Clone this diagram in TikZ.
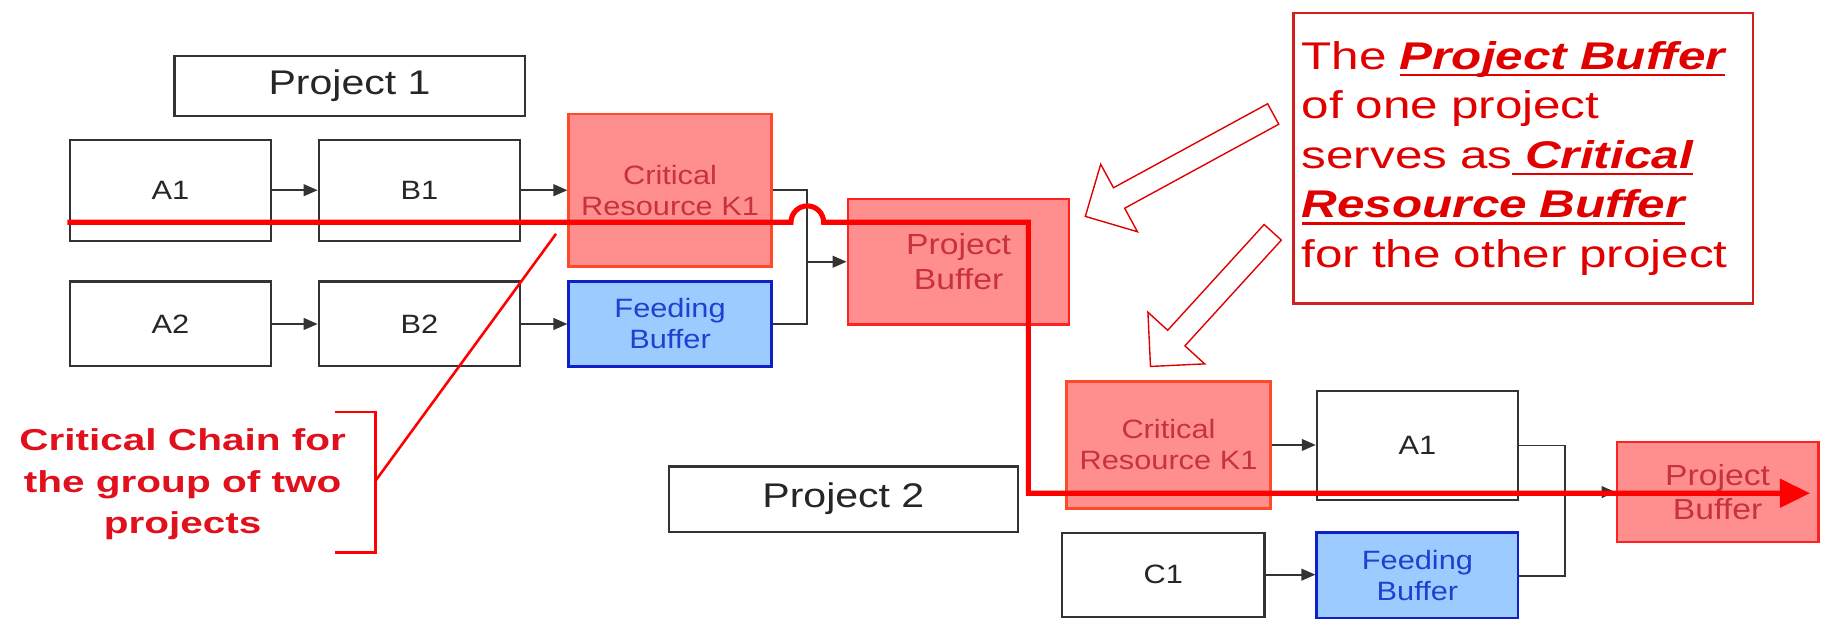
\documentclass[tikz,border=0pt]{standalone}
\usepackage{fontspec}
\setmainfont{Liberation Sans}[FakeStretch=1.16]
\newfontfamily\notefont{Liberation Sans}[FakeStretch=1.28]
\newfontfamily\labelfont{Liberation Sans}[FakeStretch=1.34]
\newfontfamily\projfont{Liberation Sans}[FakeStretch=1.2]
\newsavebox{\ulbx}
\newcommand{\myul}[1]{\leavevmode\sbox{\ulbx}{#1}\rlap{\rule[-3pt]{\wd\ulbx}{1.1pt}}\usebox{\ulbx}}
\usetikzlibrary{arrows.meta}
\definecolor{boxline}{HTML}{333333}
\definecolor{redfill}{HTML}{FF8F8F}
\definecolor{critline}{HTML}{FF4A2A}
\definecolor{pbline}{HTML}{FF2222}
\definecolor{redtext}{HTML}{C8323A}
\definecolor{bluefill}{HTML}{9CCBFF}
\definecolor{blueline}{HTML}{1020C8}
\definecolor{bluetext}{HTML}{2040D0}
\definecolor{chainred}{HTML}{FF0000}
\definecolor{notered}{HTML}{E00000}
\definecolor{noteline}{HTML}{D02020}
\definecolor{labelred}{HTML}{E0101C}
\begin{document}
\begin{tikzpicture}[x=0.5pt,y=-0.5pt,
  box/.style={draw=boxline,line width=0.9pt,fill=white,inner sep=0pt,align=center,text=black!85,font=\fontsize{11.4}{13.3}\selectfont},
  critbox/.style={box,draw=critline,line width=1.2pt,fill=redfill,text=redtext},
  pbbox/.style={box,draw=pbline,line width=1.2pt,fill=redfill,text=redtext,font=\fontsize{12.5}{15}\selectfont},
  feedbox/.style={box,draw=blueline,line width=1.2pt,fill=bluefill,text=bluetext},
  projbox/.style={box,font=\projfont\fontsize{14.7}{17}\selectfont},
  flow/.style={draw=boxline,line width=0.8pt,-{Triangle[length=6pt,width=5pt]}},
  link/.style={draw=boxline,line width=0.8pt},
  chain/.style={draw=chainred,line width=2.2pt},
  thinred/.style={draw=chainred,line width=1.1pt},
  hollow/.style={draw=notered,line width=0.6pt,fill=white},
  notebox/.style={draw=noteline,line width=1pt,fill=white,inner xsep=3.5pt,inner ysep=0pt,
     text width=190.5pt,align=left,text=notered,font=\notefont\fontsize{16.6}{21.3}\selectfont},
  chainlabel/.style={inner sep=0pt,align=center,text=labelred,font=\labelfont\bfseries\fontsize{13}{17.85}\selectfont}
  ]
\useasboundingbox (0,0) rectangle (1568,532);

% ---------- Project 1 ----------
\node[projbox,minimum width=150.5pt,minimum height=26pt] (proj1) at (300.5,74) {Project 1};
\node[box,minimum width=86.5pt,minimum height=43.5pt] (a1) at (146.5,163.5) {A1};
\node[box,minimum width=86.5pt,minimum height=43.5pt] (b1) at (360.5,163.5) {B1};
\node[critbox,minimum width=87pt,minimum height=65.5pt] (crit1) at (576,163.5) {Critical\\Resource K1};
\node[box,minimum width=86.5pt,minimum height=36.5pt] (a2) at (146.5,278.5) {A2};
\node[box,minimum width=86.5pt,minimum height=36.5pt] (b2) at (360.5,278.5) {B2};
\node[feedbox,minimum width=87pt,minimum height=36.5pt] (feed1) at (576,278.5) {Feeding\\Buffer};
\node[pbbox,minimum width=95pt,minimum height=54pt] (pb1) at (824,225) {Project\\Buffer};

\coordinate (jn1) at (694,225);
\draw[flow] (a1) -- (b1);
\draw[flow] (b1) -- (crit1);
\draw[flow] (a2) -- (b2);
\draw[flow] (b2) -- (feed1);
\draw[link] (crit1.east) -| (jn1) |- (feed1.east);
\draw[flow] (jn1) -- (pb1.west);

% ---------- Note ----------
\node[notebox,minimum width=197.5pt,minimum height=125pt] (note) at (1309.5,136)
 {The {\bfseries\itshape\myul{Project Buffer}}\\
  of one project\\
  serves as{\bfseries\itshape\myul{\ Critical}}\\
  {\bfseries\itshape\myul{Resource Buffer}}\\
  for the other project};

\draw[hollow] (933,186) -- (977.8,199.2) -- (966.8,179) -- (1099.3,106.8)
  -- (1089.7,89.2) -- (957.2,161.4) -- (946.2,141.2) -- cycle;
\draw[hollow] (989,315) -- (1035.6,312.8) -- (1018.6,297.3) -- (1101.5,206.4)
  -- (1086.7,193) -- (1003.8,283.9) -- (986.8,268.4) -- cycle;

% ---------- Project 2 ----------
\node[projbox,minimum width=150pt,minimum height=28pt] (proj2) at (725,429) {Project 2};
\node[critbox,minimum width=87.5pt,minimum height=54.5pt] (crit2) at (1004.5,382.5) {Critical\\Resource K1};
\node[box,minimum width=86.5pt,minimum height=47pt] (a1b) at (1218.5,383) {A1};
\node[box,minimum width=87pt,minimum height=36pt] (c1) at (1000,494) {C1};
\node[feedbox,minimum width=86.5pt,minimum height=37pt] (feed2) at (1218.5,495) {Feeding\\Buffer};
\node[pbbox,minimum width=86.5pt,minimum height=43pt] (pb2) at (1476.5,423) {Project\\Buffer};

\coordinate (jn2) at (1345,423);
\draw[flow] (crit2.east) -- (a1b.west |- crit2.east);
\draw[flow] (c1.east) -- (feed2.west |- c1.east);
\draw[link] (a1b.east) -| (jn2) |- (feed2.east);
\draw[flow] (jn2) -- (pb2.west);

% ---------- Critical chain ----------
\coordinate (cstart) at (58,191);
\coordinate (hopin) at (680,191);
\coordinate (cturn) at (884,191);
\coordinate (cdown) at (884,424);
\coordinate (cend) at (1556,424);
\draw[chain,-{Triangle[length=13pt,width=12pt]}] (cstart) -- (hopin)
  arc[start angle=180,end angle=0,radius=7pt] -- (cturn) -- (cdown) -- (cend);

% ---------- Label ----------
\coordinate (dtop) at (478,201);
\coordinate (bmid) at (323,413);
\coordinate (btop) at (288,354);
\coordinate (bbot) at (288,475);
\draw[thinred] (dtop) -- (bmid);
\draw[thinred] (btop) -- (323,354) -- (323,475) -- (bbot);
\node[chainlabel] (label) at (157,416.5) {Critical Chain for\\the group of two\\projects};
\end{tikzpicture}
\end{document}
